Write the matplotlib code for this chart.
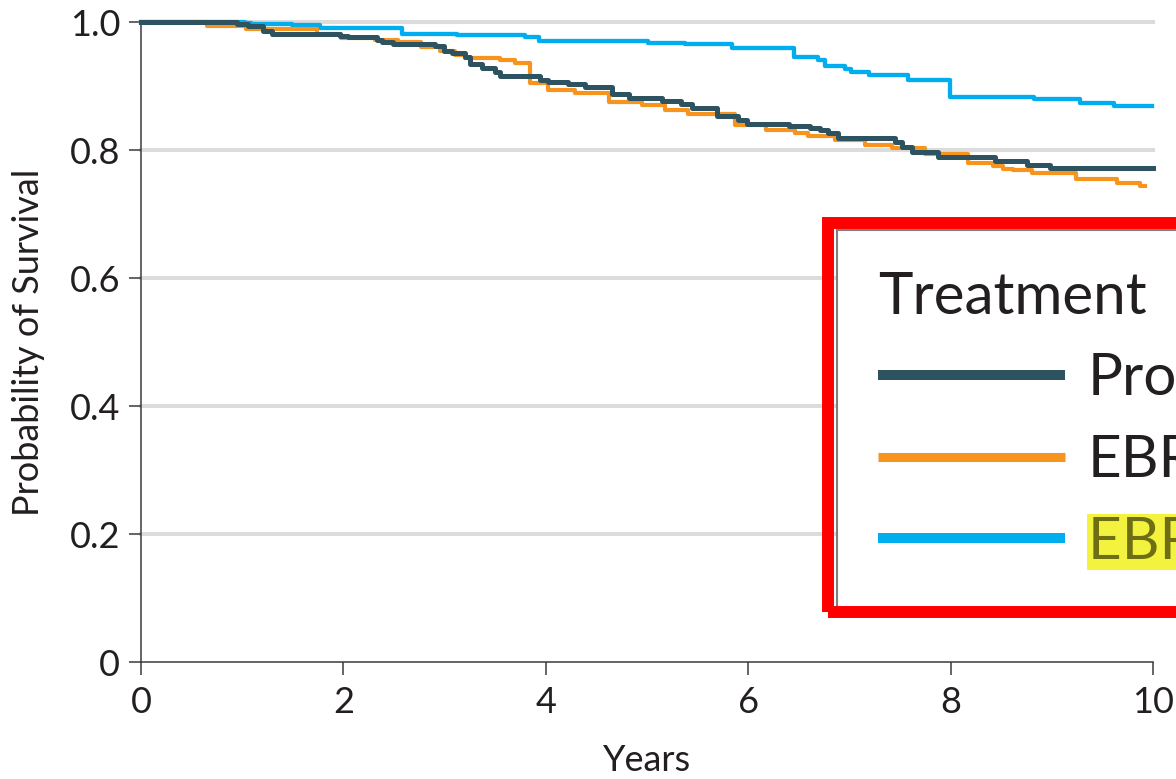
import matplotlib
matplotlib.use("Agg")
import matplotlib.pyplot as plt
from matplotlib.patches import Rectangle

# Kaplan-Meier step curves (time in years, survival probability)
prost_t = [0, 0.95, 1.06, 1.21, 1.29, 1.36, 1.97, 2.05, 2.33, 2.38, 2.49, 2.91, 2.99, 3.07, 3.20,
           3.25, 3.37, 3.50, 3.55, 3.94, 4.02, 4.22, 4.39, 4.65, 4.82, 5.15, 5.34, 5.44, 5.69,
           5.90, 5.99, 6.40, 6.61, 6.71, 6.79, 6.89, 7.45, 7.52, 7.62, 7.88, 8.44, 8.75, 8.98, 10.0]
prost_s = [1.0, 0.997, 0.993, 0.986, 0.982, 0.981, 0.978, 0.977, 0.972, 0.968, 0.966, 0.962, 0.955,
           0.951, 0.945, 0.934, 0.928, 0.922, 0.915, 0.909, 0.906, 0.903, 0.898, 0.888, 0.881, 0.877,
           0.872, 0.865, 0.853, 0.847, 0.841, 0.838, 0.834, 0.831, 0.827, 0.819, 0.813, 0.805, 0.797,
           0.789, 0.783, 0.777, 0.772, 0.772]

ebrt_t = [0, 0.65, 1.04, 1.74, 1.98, 2.31, 2.54, 2.77, 2.95, 3.10, 3.20, 3.55, 3.70, 3.84, 4.02,
          4.29, 4.62, 4.95, 5.18, 5.41, 5.87, 6.18, 6.46, 6.59, 6.86, 7.15, 7.42, 7.75, 8.17, 8.42,
          8.52, 8.62, 8.80, 9.24, 9.64, 9.87, 9.92]
ebrt_s = [1.0, 0.993, 0.989, 0.981, 0.975, 0.972, 0.969, 0.961, 0.955, 0.948, 0.943, 0.941, 0.936,
          0.904, 0.894, 0.889, 0.875, 0.870, 0.863, 0.857, 0.839, 0.832, 0.827, 0.822, 0.816, 0.808,
          0.803, 0.793, 0.780, 0.775, 0.771, 0.768, 0.764, 0.755, 0.748, 0.743, 0.743]

brachy_t = [0, 1.03, 1.09, 1.49, 1.77, 2.58, 3.12, 3.79, 3.93, 5.01, 5.38, 5.84, 6.45, 6.69, 6.76,
            6.96, 7.02, 7.19, 7.58, 7.99, 8.82, 9.28, 9.61, 9.99]
brachy_s = [1.0, 0.998, 0.997, 0.995, 0.990, 0.982, 0.980, 0.977, 0.971, 0.967, 0.965, 0.959, 0.946,
            0.941, 0.931, 0.926, 0.922, 0.917, 0.909, 0.883, 0.879, 0.873, 0.868, 0.868]

labels = ["Prostatectomy", "EBRT", "EBRT + brachytherapy"]
x_ticks = [0, 2, 4, 6, 8, 10]
y_ticks = [0, 0.2, 0.4, 0.6, 0.8, 1.0]
y_tick_labels = ["0", "0.2", "0.4", "0.6", "0.8", "1.0"]

DARK = "#2d5361"
ORANGE = "#f7941d"
BLUE = "#00aeef"
TEXT = "#231f20"
AXIS = "#3b3b3b"

plt.rcParams["font.family"] = ["Lato", "DejaVu Sans"]

W, H = 1176, 779
fig = plt.figure(figsize=(W / 100, H / 100), dpi=100)


def fx(px):
    return px / W


def fy(py):
    return 1 - py / H


ax = fig.add_axes([fx(141), fy(662), fx(1153) - fx(141), fy(22) - fy(662)])

for y in y_ticks[1:]:
    ax.axhline(y, color="#dcdcdc", lw=2.9, zorder=0, clip_on=False)

l_b, = ax.step(brachy_t, brachy_s, where="post", color=BLUE, lw=3.1, zorder=3, clip_on=False)
l_e, = ax.step(ebrt_t, ebrt_s, where="post", color=ORANGE, lw=3.0, zorder=4, clip_on=False)
l_p, = ax.step(prost_t, prost_s, where="post", color=DARK, lw=3.6, zorder=5, clip_on=False)

ax.set_xlim(0, 10)
ax.set_ylim(0, 1.0)
ax.set_xticks(x_ticks)
ax.set_xticklabels([str(v) for v in x_ticks])
ax.set_yticks(y_ticks)
ax.set_yticklabels(y_tick_labels)

for side in ("top", "right"):
    ax.spines[side].set_visible(False)
for side in ("left", "bottom"):
    ax.spines[side].set_color(AXIS)
    ax.spines[side].set_linewidth(1.1)

ax.tick_params(axis="both", colors=AXIS, width=1.1, length=9, labelsize=26, labelcolor=TEXT)
ax.tick_params(axis="y", pad=6)
ax.tick_params(axis="x", pad=8)

ax.set_xlabel("Years", fontsize=26, color=TEXT, labelpad=18)
ax.set_ylabel("Probability of Survival", fontsize=26, color=TEXT, labelpad=18)

leg = ax.legend([l_p, l_e, l_b], labels, title="Treatment",
                loc="upper left", bbox_to_anchor=(fx(837), fy(230)),
                bbox_transform=fig.transFigure, borderaxespad=0,
                fontsize=42, title_fontsize=42, alignment="left",
                frameon=True, fancybox=False, framealpha=1, edgecolor="#7f7f7f",
                borderpad=0.7, handlelength=3.2, handletextpad=0.4, labelspacing=0.49)
leg.get_frame().set_linewidth(1.5)
leg.get_title().set_color(TEXT)
for t in leg.get_texts():
    t.set_color(TEXT)
for h, w in zip(leg.get_lines(), (7.2, 6.5, 7.2)):
    h.set_linewidth(w)
    h.set_solid_capstyle("butt")

# highlighter mark on the last legend entry
hl = leg.get_texts()[2]
hl.set_color("#6e6e14")
hl.set_bbox(dict(facecolor="#f3f33f", edgecolor="none", pad=1))

# red frame around the legend
fig.add_artist(Rectangle((fx(828), fy(612)), fx(1400) - fx(828), fy(223) - fy(612),
                         transform=fig.transFigure, fill=False, edgecolor="#ff0000",
                         lw=8.6, zorder=10))

fig.savefig("out.png", dpi=100)
